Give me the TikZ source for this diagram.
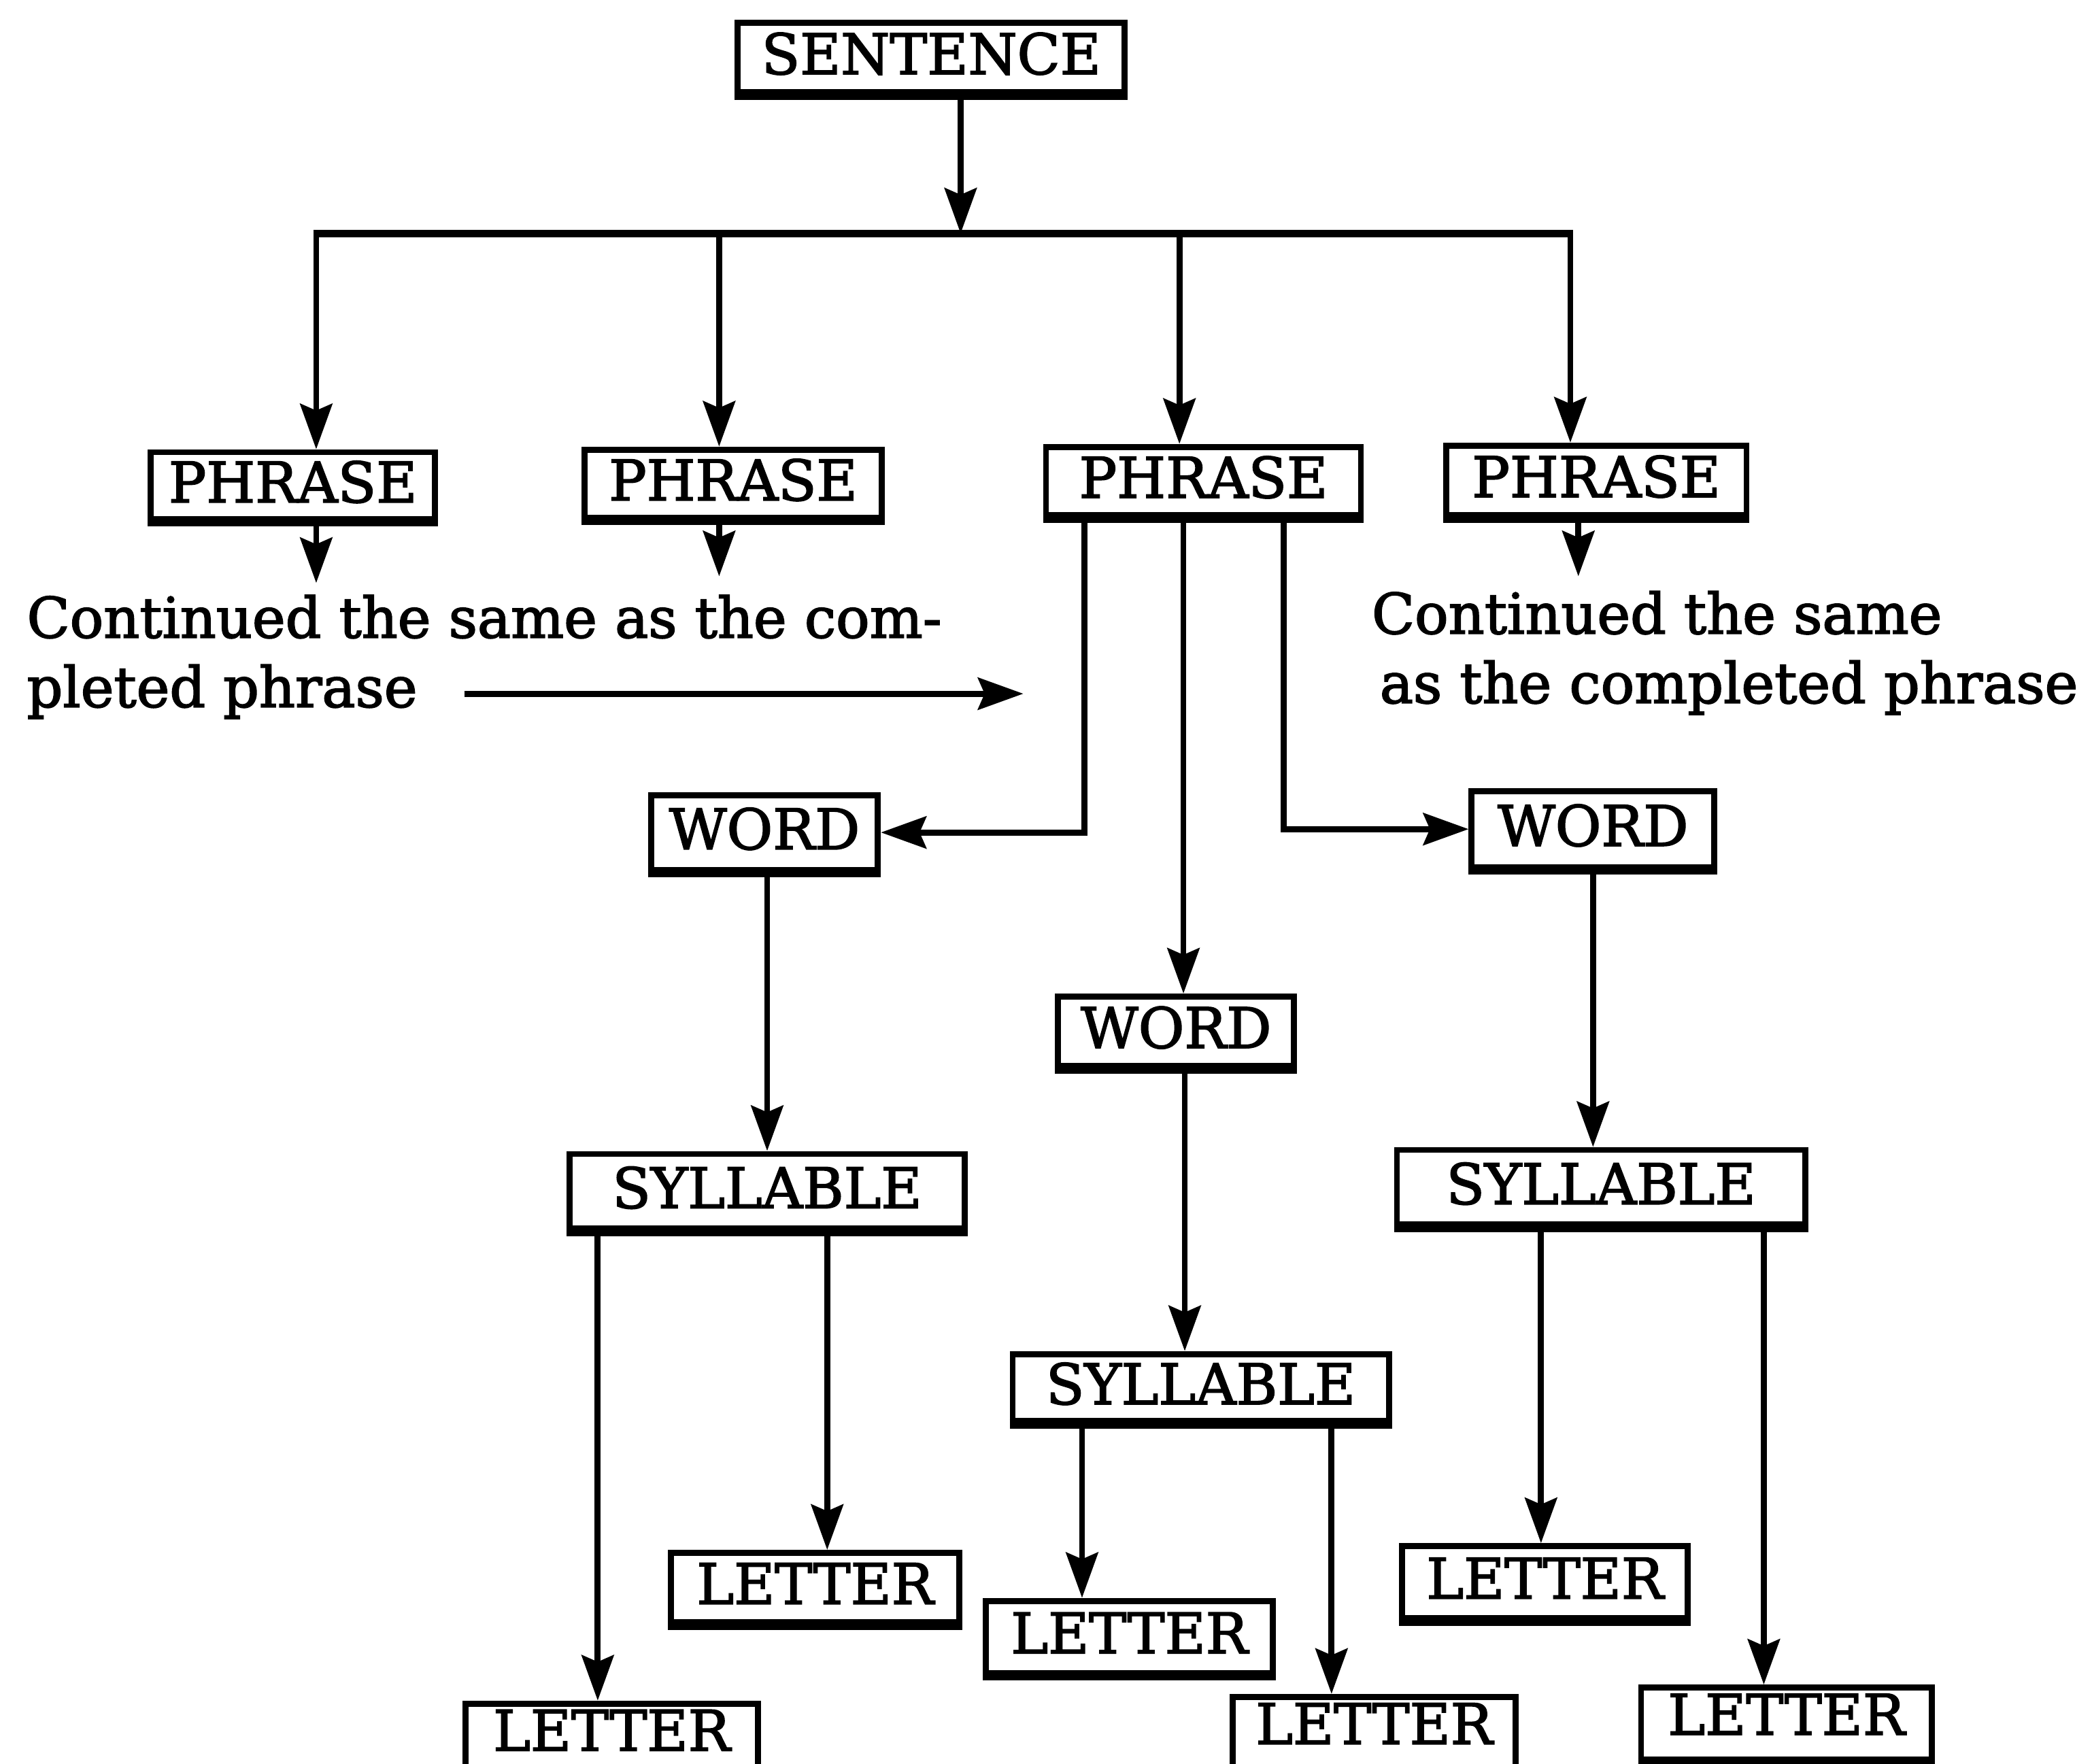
\documentclass[tikz,border=0pt]{standalone}
\usepackage{fontspec}
\setmainfont{DejaVu Serif}
\usetikzlibrary{arrows.meta}
% slightly heavier type: fill and stroke the glyphs
\newcommand\inkon{\special{pdf:literal direct 2 Tr 0.9 w 0 G}}
\newcommand\inkoff{\special{pdf:literal direct 0 Tr}}
\begin{document}
\begin{tikzpicture}[x=1pt,y=-1pt,
  heavy/.style={execute at begin node=\inkon, execute at end node=\inkoff},
  box/.style={draw, line width=4.5pt, inner sep=0pt, text depth=6pt, heavy,
    font=\fontsize{42}{48}\selectfont,
    append after command={(\tikzlastnode.south west) edge[line width=7pt, line cap=butt] (\tikzlastnode.south east)}},
  lift/.style={text depth=14pt},
  link/.style={line width=4.5pt},
  arr/.style={link, -{Stealth[length=34pt,width=24pt,inset=5pt]}},
  note/.style={font=\fontsize{42}{52}\selectfont, align=left, inner sep=0pt, anchor=base west, heavy}
]
\useasboundingbox (0,0) rectangle (1568,1322);
\clip (0,0) rectangle (1568,1322);
\fill[white] (0,0) rectangle (1568,1322);

% boxes
\node[box, minimum width=290pt, minimum height=52pt] (sent) at (698,43) {SENTENCE};
\node[box, minimum width=213pt, minimum height=50pt] (p1) at (219.5,364) {PHRASE};
\node[box, minimum width=223pt, minimum height=51pt] (p2) at (549.5,362.5) {PHRASE};
\node[box, minimum width=236pt, minimum height=51pt] (p3) at (902,360.5) {PHRASE};
\node[box, minimum width=225pt, minimum height=52pt] (p4) at (1196.5,360) {PHRASE};
\node[box, minimum width=170pt, minimum height=56pt] (w1) at (573,624) {WORD};
\node[box, minimum width=177pt, minimum height=52pt] (w2) at (881.5,773) {WORD};
\node[box, minimum width=182pt, minimum height=57pt] (w3) at (1194,621.5) {WORD};
\node[box, minimum width=296pt, minimum height=56pt] (s1) at (575,893) {SYLLABLE};
\node[box, minimum width=282pt, minimum height=50pt] (s2) at (900,1040) {SYLLABLE};
\node[box, minimum width=306pt, minimum height=56pt] (s3) at (1200,890) {SYLLABLE};
\node[box, lift, minimum width=219pt, minimum height=54pt] (l1) at (458.5,1304) {LETTER};
\node[box, minimum width=216pt, minimum height=52pt] (l2) at (611,1190) {LETTER};
\node[box, minimum width=215pt, minimum height=54pt] (l3) at (846.5,1227) {LETTER};
\node[box, lift, minimum width=212pt, minimum height=54pt] (l4) at (1030,1299) {LETTER};
\node[box, lift, minimum width=218pt, minimum height=54pt] (l6) at (1339,1292) {LETTER};
\node[box, minimum width=214pt, minimum height=54pt] (l5) at (1158,1186) {LETTER};

% notes
\node[note] (n1) at (20,530) {Continued the same as the com-\\pleted phrase};
\node[note] (n2) at (1028,527) {Continued the same\\\hspace*{6pt}as the completed phrase};

% junction points
\coordinate (bus) at (720,175);
\coordinate (bL) at (237,175);
\coordinate (bR) at (1177,175);
\coordinate (b2) at (539,175);
\coordinate (b3) at (884,175);
\coordinate (c1) at (237,437);
\coordinate (c2) at (539,432);
\coordinate (c4) at (1183,432);
\coordinate (a1) at (348,520);
\coordinate (a2) at (767,520);

% sentence to phrases
\draw[arr] (sent.south -| bus) -- (bus);
\draw[link, line width=5.5pt] ([xshift=-2.25pt]bL) -- ([xshift=2.25pt]bR);
\draw[arr] (bL) -- (bL |- p1.north);
\draw[arr] (b2) -- (b2 |- p2.north);
\draw[arr] (b3) -- (b3 |- p3.north);
\draw[arr] (bR) -- (bR |- p4.north);

% continuation arrows
\draw[arr] (p1.south -| c1) -- (c1);
\draw[arr] (p2.south -| c2) -- (c2);
\draw[arr] (p4.south -| c4) -- (c4);
\draw[arr] (a1) -- (a2);

% phrase to words
\draw[arr] ([xshift=-89pt]p3.south) |- (w1.east);
\draw[arr] ([xshift=-15pt]p3.south) -- ([xshift=-15pt]p3.south |- w2.north);
\draw[arr] ([xshift=60pt]p3.south) |- (w3.west);

% words to syllables
\draw[arr] (w1.south -| s1.north) -- (s1.north);
\draw[arr] ([xshift=6.5pt]w2.south) -- ([xshift=6.5pt]w2.south |- s2.north);
\draw[arr] (w3.south) -- (w3.south |- s3.north);

% syllables to letters
\draw[arr] ([xshift=-127pt]s1.south) -- ([xshift=-127pt]s1.south |- l1.north);
\draw[arr] ([xshift=45pt]s1.south) -- ([xshift=45pt]s1.south |- l2.north);
\draw[arr] ([xshift=-89pt]s2.south) -- ([xshift=-89pt]s2.south |- l3.north);
\draw[arr] ([xshift=98pt]s2.south) -- ([xshift=98pt]s2.south |- l4.north);
\draw[arr] ([xshift=-45pt]s3.south) -- ([xshift=-45pt]s3.south |- l5.north);
\draw[arr] ([xshift=122pt]s3.south) -- ([xshift=122pt]s3.south |- l6.north);
\end{tikzpicture}
\end{document}
